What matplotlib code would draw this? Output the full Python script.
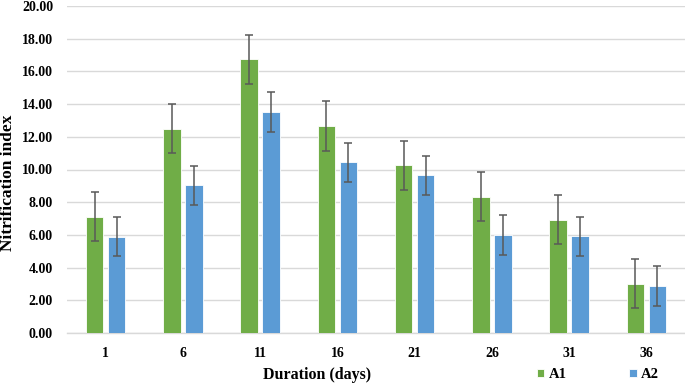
import matplotlib.pyplot as plt
import numpy as np

days = ['1', '6', '11', '16', '21', '26', '31', '36']
a1 = [7.10, 12.48, 16.74, 12.66, 10.26, 8.32, 6.92, 3.00]
a2 = [5.88, 9.04, 13.52, 10.44, 9.64, 6.00, 5.92, 2.88]
a1_err = [1.5, 1.5, 1.5, 1.5, 1.5, 1.5, 1.5, 1.5]
a2_err = [1.2, 1.2, 1.2, 1.2, 1.2, 1.2, 1.2, 1.2]

plt.rcParams['font.family'] = ['Liberation Serif', 'DejaVu Serif']
plt.rcParams['font.weight'] = 'bold'

fig = plt.figure(figsize=(6.85, 3.84), dpi=100)
ax = fig.add_axes([67 / 685, 1 - 333 / 384, 618 / 685, 327 / 384])

x = np.arange(len(days))
w = 0.225
off = 0.143
err_kw = dict(ecolor='#595959', elinewidth=1.1, capsize=3, capthick=1.1)
ax.bar(x - off, a1, w, yerr=a1_err, color='#70AD47', edgecolor='white',
       linewidth=0.6, error_kw=err_kw, label='A1', zorder=3)
ax.bar(x + off, a2, w, yerr=a2_err, color='#5B9BD5', edgecolor='white',
       linewidth=0.6, error_kw=err_kw, label='A2', zorder=3)

ax.set_xlim(-0.5, len(days) - 0.5)
ax.set_ylim(0, 20)
ax.set_yticks(np.arange(0, 21, 2))
ax.set_yticklabels(['%.2f' % v for v in np.arange(0, 21, 2)])
ax.set_xticks(x)
ax.set_xticklabels(days)
ax.tick_params(length=0, labelsize=10)
ax.tick_params(axis='x', pad=10)
ax.tick_params(axis='y', pad=10)
ax.grid(axis='y', color='#D9D9D9', linewidth=1, zorder=0)
for s in ['top', 'right', 'left']:
    ax.spines[s].set_visible(False)
ax.spines['bottom'].set_color('#D9D9D9')
ax.spines['bottom'].set_linewidth(1)

fig.text(8 / 685, 1 - 183 / 384, 'Nitrification index', rotation=90,
         ha='center', va='center', fontsize=12.5, fontweight='bold')
fig.text(317 / 685, 1 - 375 / 384, 'Duration (days)', ha='center', va='center',
         fontsize=11.5, fontweight='bold')

fig.legend(loc='center', bbox_to_anchor=(598 / 685, 1 - 375 / 384), ncol=2,
           frameon=False, fontsize=10.5, handlelength=0.5, handleheight=0.5,
           columnspacing=4.3, handletextpad=0.3)

fig.savefig('out.png', dpi=100)
